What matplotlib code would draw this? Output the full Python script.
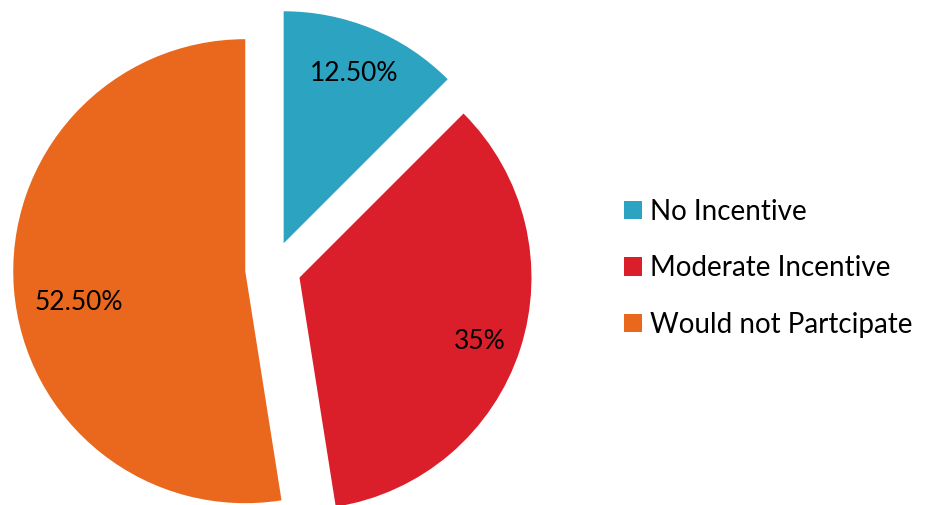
import numpy as np
import matplotlib.pyplot as plt

categories = ['No Incentive', 'Moderate Incentive', 'Would not Partcipate']
values = [12.5, 35, 52.5]
pct_labels = ['12.50%', '35%', '52.50%']
colors = ['#2ba3c1', '#db1f2a', '#ea671e']

plt.rcParams['font.family'] = ['Lato', 'DejaVu Sans']

fig = plt.figure(figsize=(9.25, 5.05), dpi=100)
ax = fig.add_axes([0, 0, 1, 1])

wedges, texts = ax.pie(values, colors=colors, startangle=90, counterclock=False,
                       explode=[0.12] * 3, radius=1)

# label placement inside each slice (distance from slice tip, angle tweak)
dists = [0.79, 0.825, 0.73]
tweaks = [0, -1.4, 6]
for w, lab, d, t in zip(wedges, pct_labels, dists, tweaks):
    a = np.deg2rad((w.theta1 + w.theta2) / 2 + t)
    cx, cy = w.center
    ax.text(cx + d * np.cos(a), cy + d * np.sin(a), lab, ha='center', va='center',
            fontsize=19, color='black')

ax.set_aspect('auto')
ax.set_xlim(-273 / 232, (925 - 273) / 232)
ax.set_ylim(-236 / 232, 269 / 232)
ax.axis('off')

ax.legend(wedges, categories, loc='center left', bbox_to_anchor=(0.66, 0.469),
          frameon=False, fontsize=20, handlelength=0.64, handleheight=0.64,
          handletextpad=0.3, labelspacing=1.1, borderpad=0)

fig.savefig('out.png', dpi=100)
